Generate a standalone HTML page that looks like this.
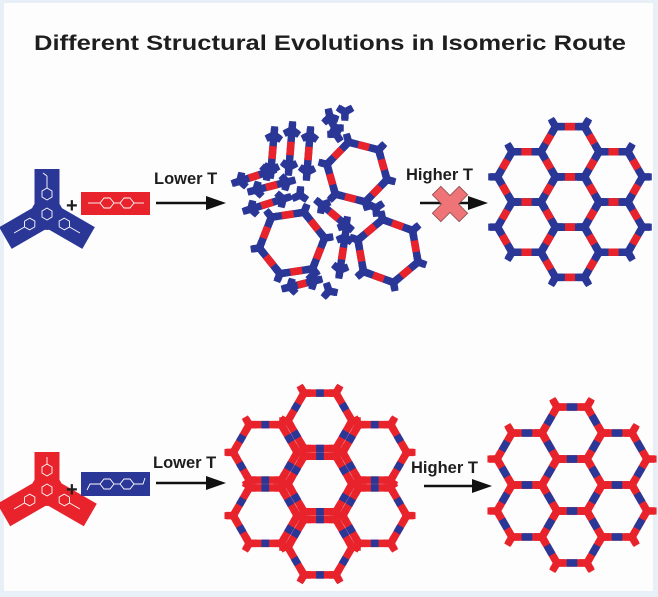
<!DOCTYPE html>
<html><head><meta charset="utf-8"><style>
html,body{margin:0;padding:0;background:#e9eff6;}
#c{position:absolute;left:4px;top:3px;width:649px;height:588px;background:#fdfdfd;}
svg{position:absolute;left:0;top:0;}
text{font-family:"Liberation Sans",Arial,sans-serif;font-weight:bold;fill:#1e1e1e;}
</style></head><body>
<div id="c"></div>
<svg id="s" width="658" height="597" viewBox="0 0 658 597">
<text x="330" y="50" font-size="21.5" text-anchor="middle" textLength="592" lengthAdjust="spacingAndGlyphs">Different Structural Evolutions in Isomeric Route</text>
<g id="g"></g>
<g transform="translate(47,214)" fill="#2a3797">
<rect x="-12.5" y="-45" width="25" height="45"/>
<rect x="-12.5" y="-48" width="25" height="48" transform="rotate(120)"/>
<rect x="-12.5" y="-48" width="25" height="48" transform="rotate(240)"/>
<circle r="16"/>
<g stroke="#fff" stroke-width="0.9" fill="none">
<polygon points="0,-6 5,-3 5,3 0,6 -5,3 -5,-3"/>
<polygon points="0,-26 5,-23 5,-17 0,-14 -5,-17 -5,-23"/>
<line x1="0" y1="-26" x2="0" y2="-38"/><line x1="0" y1="-38" x2="-4" y2="-41"/>
<polygon points="0,-26 5,-23 5,-17 0,-14 -5,-17 -5,-23" transform="rotate(120)"/>
<polygon points="0,-26 5,-23 5,-17 0,-14 -5,-17 -5,-23" transform="rotate(240)"/>
<line x1="0" y1="-26" x2="0" y2="-38" transform="rotate(120)"/>
<line x1="0" y1="-26" x2="0" y2="-38" transform="rotate(240)"/>
</g></g>
<text x="66" y="212" font-size="20">+</text>
<rect x="81" y="192" width="69" height="23" fill="#e8232b"/>
<g stroke="#fff" stroke-width="0.9" fill="none"><polygon points="100,203 104,198 110,198 114,203 110,208 104,208"/><polygon points="120,203 124,198 130,198 134,203 130,208 124,208"/><line x1="88" y1="203" x2="100" y2="203"/><line x1="114" y1="203" x2="120" y2="203"/><line x1="134" y1="203" x2="144" y2="203"/></g>
<text x="154" y="184" font-size="16.5">Lower T</text>
<line x1="156" y1="203" x2="208" y2="203" stroke="#111" stroke-width="2.5"/><polygon points="206,196 226,203 206,210" fill="#111"/>
<text x="406" y="180" font-size="16.5">Higher T</text>
<line x1="420" y1="203" x2="470" y2="203" stroke="#111" stroke-width="2.5"/><polygon points="468,196 488,203 468,210" fill="#111"/>
<g transform="translate(450,204) rotate(45)"><path d="M-6,-19 H6 V-6 H19 V6 H6 V19 H-6 V6 H-19 V-6 H-6 Z" fill="#ef7477" stroke="#8a4a4a" stroke-width="0.8"/></g>
<g transform="translate(47,490)" fill="#e8232b">
<rect x="-12.5" y="-38" width="25" height="38"/>
<rect x="-13" y="-50" width="26" height="50" transform="rotate(120)"/>
<rect x="-13" y="-50" width="26" height="50" transform="rotate(240)"/>
<circle r="16"/>
<g stroke="#fff" stroke-width="0.9" fill="none">
<polygon points="0,-6 5,-3 5,3 0,6 -5,3 -5,-3"/>
<polygon points="0,-26 5,-23 5,-17 0,-14 -5,-17 -5,-23"/>
<polygon points="0,-26 5,-23 5,-17 0,-14 -5,-17 -5,-23" transform="rotate(120)"/>
<polygon points="0,-26 5,-23 5,-17 0,-14 -5,-17 -5,-23" transform="rotate(240)"/>
<line x1="0" y1="-26" x2="0" y2="-33"/>
<line x1="0" y1="-26" x2="0" y2="-38" transform="rotate(120)"/>
<line x1="0" y1="-26" x2="0" y2="-38" transform="rotate(240)"/>
</g></g>
<text x="66" y="496" font-size="20">+</text>
<rect x="81" y="472" width="69" height="24" fill="#2a3797"/>
<g stroke="#fff" stroke-width="0.9" fill="none"><polygon points="100,484 104,479 110,479 114,484 110,489 104,489"/><polygon points="120,484 124,479 130,479 134,484 130,489 124,489"/><polyline points="87,490 90,484 100,484"/><line x1="114" y1="484" x2="120" y2="484"/><polyline points="134,484 143,484 145,478"/></g>
<text x="153" y="468" font-size="16.5">Lower T</text>
<line x1="156" y1="483" x2="208" y2="483" stroke="#111" stroke-width="2.5"/><polygon points="206,476 226,483 206,490" fill="#111"/>
<text x="411" y="473" font-size="16.5">Higher T</text>
<line x1="424" y1="486" x2="474" y2="486" stroke="#111" stroke-width="2.5"/><polygon points="472,479 492,486 472,493" fill="#111"/>
</svg>
<script>
const B="#2a3797",R="#e8232b",NS="http://www.w3.org/2000/svg";
const g=document.getElementById("g");
let F=0.32;
function el(t,a){const e=document.createElementNS(NS,t);for(const k in a)e.setAttribute(k,a[k]);g.appendChild(e);return e;}
function line(x1,y1,x2,y2,c,w){el("line",{x1,y1,x2,y2,stroke:c,"stroke-width":w});}
function edge(x1,y1,x2,y2,nc,lc,w){line(x1,y1,x2,y2,nc,w);const f=F;line(x1+(x2-x1)*f,y1+(y2-y1)*f,x2-(x2-x1)*f,y2-(y2-y1)*f,lc,w);}
function blob(x,y,a,nc,s,w){w=w||8;
 for(let i=0;i<3;i++){const t=a+i*2*Math.PI/3;const ex=x+Math.cos(t)*s,ey=y+Math.sin(t)*s;
  line(x,y,ex,ey,nc,w);
  const px=-Math.sin(t)*3.5,py=Math.cos(t)*3.5;line(ex-px,ey-py,ex+px,ey+py,nc,3.5);}
 el("circle",{cx:x,cy:y,r:w*0.6,fill:nc});}
function hexV(cx,cy,L,rot){const v=[];for(let i=0;i<6;i++){const t=rot+i*Math.PI/3;v.push([cx+L*Math.cos(t),cy+L*Math.sin(t),t]);}return v;}
function hex(cx,cy,L,rot,nc,lc,w){const v=hexV(cx,cy,L,rot);for(let i=0;i<6;i++){const a=v[i],b=v[(i+1)%6];edge(a[0],a[1],b[0],b[1],nc,lc,w);}return v;}
function honey(cx,cy,L,nc,lc,side,w,bs){
 side=side||L;w=w||8;
 const cs=[[0,0]];for(let i=0;i<6;i++){const t=Math.PI/6+i*Math.PI/3;cs.push([Math.sqrt(3)*L*Math.cos(t),Math.sqrt(3)*L*Math.sin(t)]);}
 const verts=[];
 cs.forEach(c=>{hex(cx+c[0],cy+c[1],side,0,nc,lc,w);hexV(cx+c[0],cy+c[1],side,0).forEach(v=>verts.push(v));});
 verts.forEach(v=>blob(v[0],v[1],v[2],nc,bs||side*0.26,w));
}
honey(570,202,29,B,R,29,7.5);
honey(572,485,30,R,B,30,7.5);
F=0.38;
honey(320,484,36.5,R,B,32,7.5,7);
F=0.32;
function dimer(x1,y1,x2,y2){edge(x1,y1,x2,y2,B,R,7.5);const a=Math.atan2(y2-y1,x2-x1);blob(x1,y1,a+Math.PI,B,7,7.5);blob(x2,y2,a,B,7,7.5);}
function rhex(cx,cy,L,rot){const v=hex(cx,cy,L,rot,B,R,7.5);v.forEach(p=>blob(p[0],p[1],p[2],B,7,7.5));}
rhex(357,172,31,0.25);
rhex(292,243,33,-0.15);
rhex(388,251,32,0.35);
dimer(274,135,271,170);dimer(292,130,289,167);dimer(310,135,307,172);
dimer(240,181,268,172);dimer(256,190,287,182);dimer(251,209,283,199);
dimer(322,205,346,225);dimer(345,237,340,270);dimer(290,287,314,281);
blob(330,117,0.3,B,7,7.5);blob(335,128,2.1,B,7,7.5);blob(345,112,-0.5,B,7,7.5);blob(336,134,1.0,B,7,7.5);
blob(300,195,0.6,B,7,7.5);blob(376,208,1.5,B,7,7.5);blob(329,291,0.2,B,7,7.5);
</script>
</body></html>
